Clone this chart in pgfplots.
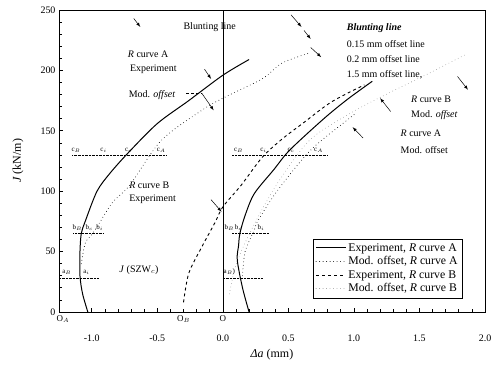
\documentclass[border=0pt]{standalone}
\usepackage{pgfplots}
\pgfplotsset{compat=1.18}
\usepackage{fontspec}
\setmainfont{Liberation Serif}
\tikzset{ann/.style={font=\fontsize{10}{11}\selectfont},
         off/.style={font=\fontsize{10}{11}\selectfont},
         sm/.style={font=\fontsize{7}{7}\selectfont}}
\begin{document}
\begin{tikzpicture}
\useasboundingbox (-59bp,-61bp) rectangle (439bp,312bp);
\begin{axis}[
  at={(0,0)}, anchor=south west,
  scale only axis, width=426bp, height=302bp,
  xmin=-1.25, xmax=2.0, ymin=0, ymax=250,
  clip=false,
  axis line style={line width=0.9pt},
  xtick={-1,-0.5,0,0.5,1,1.5,2},
  xticklabels={-1.0,-0.5,0.0,0.5,1.0,1.5,2.0},
  ytick={0,50,100,150,200,250},
  yticklabels={0,50,100,150,200,250},
  minor x tick num=4, minor y tick num=4,
  xtick pos=bottom, ytick pos=left,
  tick align=inside,
  major tick length=4bp, minor tick length=2.5bp,
  every tick/.style={black, line width=0.7pt},
  tick label style={font=\fontsize{10}{10}\selectfont},
  xticklabel style={anchor=center, yshift=-26bp},
  xlabel={\textit{Δa} (mm)},
  ylabel={\textit{J} (kN/m)},
  xlabel style={at={(axis description cs:0.5,0)}, anchor=center, yshift=-43bp, font=\fontsize{12}{12}\selectfont},
  ylabel style={at={(axis description cs:0,0.5)}, anchor=center, yshift=41bp, font=\fontsize{12}{12}\selectfont},
  legend style={at={(0.596,0.046)}, anchor=south west, draw=black, line width=0.5pt,
     font=\fontsize{11.8}{12.5}\selectfont, row sep=0pt, inner sep=2.5pt},
  legend cell align=left,
  legend image code/.code={\draw[#1] (0cm,0cm) -- (1.05cm,0cm);},
]
% Experiment, R curve A (relative to O_A)
\addplot[black, line width=1pt, smooth] coordinates {
 (-1.03,0) (-1.07,15) (-1.09,30) (-1.09,50) (-1.08,65) (-1.05,75) (-0.96,100)
 (-0.86,115) (-0.72,132) (-0.50,156) (-0.26,175) (0.0,196) (0.20,209)};
\addlegendentry{Experiment, \textit{R} curve A}
% Mod. offset, R curve A (left)
\addplot[black, line width=0.9pt, line cap=round, dash pattern=on 0pt off 3.5pt, smooth] coordinates {
 (-1.08,40) (-1.05,57) (-1.0,64) (-0.94,74) (-0.84,91) (-0.71,105) (-0.47,142)
 (-0.16,167) (0.0,177) (0.3,193) (0.45,206) (0.65,214)};
\addlegendentry{Mod. offset, \textit{R} curve A}
% Experiment, R curve B
\addplot[black, line width=0.9pt, dash pattern=on 3pt off 3pt, smooth] coordinates {
 (-0.30,8) (-0.26,32) (-0.16,54) (-0.06,74) (0.0,87) (0.14,105) (0.30,128)
 (0.45,143) (0.62,157) (0.83,174) (1.08,188)};
\addlegendentry{Experiment, \textit{R} curve B}
% Mod. offset, R curve B
\addplot[black!45, line width=0.8pt, line cap=round, dash pattern=on 0pt off 3.5pt, smooth] coordinates {
 (0.05,15) (0.09,35) (0.16,55) (0.30,85) (0.45,112) (0.67,143) (0.98,165)
 (1.28,182) (1.58,198) (1.85,213)};
\addlegendentry{Mod. offset, \textit{R} curve B}
% Experiment R curve A relative to O
\addplot[black, line width=1pt, smooth, forget plot] coordinates {
 (0.20,0) (0.15,20) (0.11,43) (0.12,55) (0.13,65) (0.17,80) (0.24,98) (0.39,118)
 (0.51,134) (0.77,160) (0.95,176) (1.14,191)};
% Mod. offset R curve A relative to O
\addplot[black, line width=0.9pt, line cap=round, dash pattern=on 0pt off 3.5pt, smooth, forget plot] coordinates {
 (0.15,30) (0.17,50) (0.24,68) (0.27,76) (0.42,101) (0.67,134) (0.95,159) (1.02,165)};
% vertical line at O
\addplot[black, line width=0.7pt, forget plot] coordinates {(0,0) (0,250)};
% reference lines
\addplot[black, line width=0.4pt, densely dotted, forget plot] coordinates {(-1.15,130) (-0.43,130)};
\addplot[black, line width=0.4pt, densely dotted, forget plot] coordinates {(0.07,130) (0.80,130)};
\addplot[black, line width=0.4pt, densely dotted, forget plot] coordinates {(-1.14,65) (-0.91,65)};
\addplot[black, line width=0.4pt, densely dotted, forget plot] coordinates {(0.07,65) (0.35,65)};
\addplot[black, line width=0.4pt, densely dotted, forget plot] coordinates {(-1.24,28) (-0.95,28)};
\addplot[black, line width=0.4pt, densely dotted, forget plot] coordinates {(0.0,28) (0.30,28)};
% reference labels
\node[sm] at (axis cs:-1.12,134) {c$_B$};
\node[sm] at (axis cs:-0.91,134) {c$_i$};
\node[sm] at (axis cs:-0.72,134) {c$_c$};
\node[sm] at (axis cs:-0.47,134) {c$_A$};
\node[sm] at (axis cs:0.12,134) {c$_B$};
\node[sm] at (axis cs:0.31,134) {c$_i$};
\node[sm] at (axis cs:0.52,134) {c$_c$};
\node[sm] at (axis cs:0.73,134) {c$_A$};
\node[sm] at (axis cs:-1.11,70) {b$_B$};
\node[sm] at (axis cs:-1.02,70) {b$_c$};
\node[sm] at (axis cs:-0.94,70) {b$_i$};
\node[sm] at (axis cs:0.05,70) {b$_B$};
\node[sm] at (axis cs:0.12,70) {b$_c$};
\node[sm] at (axis cs:0.29,70) {b$_i$};
\node[sm] at (axis cs:-1.19,33) {a$_B$};
\node[sm] at (axis cs:-1.04,33) {a$_i$};
\node[sm] at (axis cs:0.05,33) {a$_B$)};
% origin labels
\node[anchor=north, font=\fontsize{9}{9}\selectfont] at (axis cs:-1.22,0) {O$_A$};
\node[anchor=north, font=\fontsize{9}{9}\selectfont] at (axis cs:-0.30,0) {O$_B$};
\node[anchor=north, font=\fontsize{9}{9}\selectfont] at (axis cs:0.0,0) {O};
% text annotations
\node[ann] at (axis cs:-0.10,236) {Blunting line};
\node[ann] at (axis cs:-0.57,213) {\textit{R} curve A};
\node[ann] at (axis cs:-0.53,201) {Experiment};
\node[ann] at (axis cs:-0.54,180) {Mod. \textit{offset}};
\node[ann, anchor=west] at (axis cs:-0.74,105) {\textit{R} curve B};
\node[ann, anchor=west] at (axis cs:-0.74,93) {Experiment};
\node[ann] at (axis cs:-0.64,35) {\textit{J} (SZW$_c$)};
\node[ann, anchor=west] at (axis cs:0.92,235) {\textbf{\textit{Blunting line}}};
\node[off, anchor=west] at (axis cs:0.92,222) {0.15 mm offset line};
\node[off, anchor=west] at (axis cs:0.92,209) {0.2 mm offset line};
\node[off, anchor=west] at (axis cs:0.92,196) {1.5 mm offset line,};
\node[ann, anchor=west] at (axis cs:1.41,176) {\textit{R} curve B};
\node[ann, anchor=west] at (axis cs:1.41,163) {Mod. \textit{offset}};
\node[ann, anchor=west] at (axis cs:1.33,148) {\textit{R} curve A};
\node[ann, anchor=west] at (axis cs:1.33,134) {Mod. offset};
% leader and arrows
\draw[densely dashed, line width=0.4pt] (axis cs:-0.28,181) -- (axis cs:-0.16,181);
\draw[-latex, line width=0.5pt] (axis cs:-0.68,243) -- (axis cs:-0.63,236);
\draw[-latex, line width=0.5pt] (axis cs:-0.14,201) -- (axis cs:-0.09,193);
\draw[-latex, line width=0.5pt] (axis cs:-0.16,181) -- (axis cs:-0.07,167);
\draw[-latex, line width=0.5pt] (axis cs:0.52,246) -- (axis cs:0.60,236);
\draw[-latex, line width=0.5pt] (axis cs:0.62,233) -- (axis cs:0.67,226);
\draw[-latex, line width=0.5pt] (axis cs:0.67,219) -- (axis cs:0.75,211);
\draw[-latex, line width=0.5pt] (axis cs:1.79,195) -- (axis cs:1.87,184);
\draw[-latex, line width=0.5pt] (axis cs:1.28,166) -- (axis cs:1.20,177);
\draw[-latex, line width=0.5pt] (axis cs:1.07,144) -- (axis cs:0.99,153);
\draw[-latex, line width=0.5pt] (axis cs:-0.09,93) -- (axis cs:-0.01,83);
\end{axis}
\end{tikzpicture}
\end{document}
